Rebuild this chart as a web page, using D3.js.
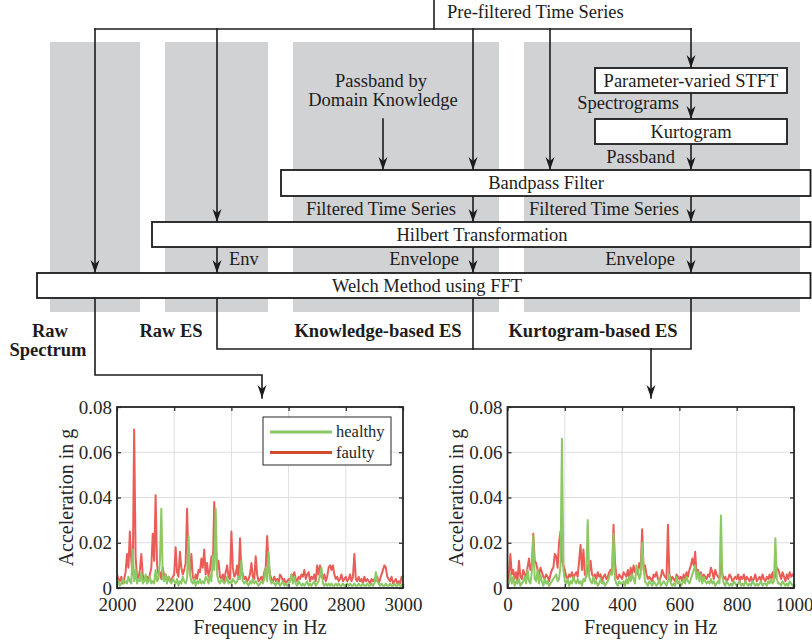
<!DOCTYPE html>
<html>
<head>
<meta charset="utf-8">
<script src="https://cdn.jsdelivr.net/npm/d3@7"></script>
<style>
  body { margin: 0; background: #fff; }
</style>
</head>
<body>
<div id="chart"></div>
<script>
// spectra, values in milli-g, one value every 5 Hz
const stepHz = 5;

const rawFreq = d3.range(2000, 3001, stepHz);
const rawFaulty = [
  6, 4, 3, 5, 2, 4, 7, 15, 9, 25,
  12, 6, 70, 14, 5, 4, 8, 15, 6, 3,
  4, 5, 3, 6, 9, 24, 12, 41, 10, 6,
  7, 4, 9, 5, 6, 3, 5, 4, 3, 5,
  6, 18, 7, 5, 16, 9, 6, 8, 11, 35,
  12, 6, 15, 5, 3, 6, 4, 8, 7, 13,
  9, 17, 6, 11, 5, 8, 14, 9, 38, 20,
  8, 12, 5, 4, 6, 3, 7, 10, 5, 4,
  25, 9, 5, 6, 10, 4, 22, 8, 6, 4,
  5, 3, 4, 6, 11, 5, 4, 14, 6, 3,
  4, 5, 3, 7, 9, 23, 11, 6, 4, 3,
  5, 3, 4, 2, 6, 5, 3, 4, 2, 3,
  4, 3, 6, 5, 7, 4, 3, 5, 4, 6,
  5, 8, 4, 6, 7, 3, 5, 4, 6, 3,
  10, 6, 10, 5, 4, 6, 3, 5, 9, 10,
  8, 10, 6, 4, 5, 3, 4, 6, 3, 4,
  5, 3, 4, 6, 3, 5, 15, 4, 3, 5,
  3, 4, 2, 5, 3, 4, 3, 2, 4, 3,
  4, 3, 5, 2, 4, 6, 8, 10, 9, 5,
  4, 3, 5, 2, 3, 4, 2, 3, 2, 5,
  5
];
const rawHealthy = [
  2, 3, 1, 2, 4, 2, 3, 2, 5, 3,
  2, 17, 3, 8, 2, 4, 3, 7, 2, 3,
  6, 2, 3, 5, 2, 3, 2, 8, 3, 4,
  12, 35, 4, 3, 6, 2, 5, 3, 2, 4,
  3, 2, 4, 1, 3, 2, 5, 3, 2, 4,
  23, 6, 3, 2, 4, 1, 3, 2, 4, 2,
  3, 2, 5, 4, 2, 6, 3, 14, 8, 35,
  6, 3, 2, 4, 3, 2, 3, 5, 2, 3,
  2, 4, 3, 2, 3, 5, 4, 12, 3, 2,
  3, 2, 1, 3, 2, 4, 2, 3, 2, 1,
  2, 3, 2, 4, 9, 3, 16, 4, 2, 3,
  2, 1, 3, 2, 1, 2, 3, 1, 2, 1,
  2, 3, 6, 2, 5, 2, 1, 3, 2, 1,
  2, 1, 2, 3, 1, 2, 1, 2, 3, 1,
  2, 3, 6, 9, 2, 1, 2, 1, 2, 1,
  2, 1, 1, 2, 1, 2, 1, 1, 2, 1,
  1, 2, 1, 2, 1, 1, 2, 1, 1, 2,
  1, 1, 2, 1, 1, 2, 1, 1, 2, 1,
  2, 7, 3, 2, 1, 2, 1, 1, 2, 1,
  1, 2, 1, 1, 2, 1, 1, 2, 1, 1,
  2
];

const esFreq = d3.range(0, 1001, stepHz);
const esFaulty = [
  3, 5, 15, 6, 8, 4, 7, 3, 12, 5,
  4, 8, 6, 5, 9, 13, 8, 10, 24, 12,
  11, 8, 6, 9, 7, 5, 4, 6, 5, 3,
  6, 8, 9, 15, 14, 9, 20, 25, 12, 10,
  8, 5, 4, 6, 5, 7, 4, 6, 7, 5,
  12, 19, 8, 17, 6, 5, 10, 7, 12, 6,
  5, 6, 4, 7, 5, 6, 3, 5, 6, 4,
  5, 7, 8, 6, 28, 12, 5, 4, 6, 5,
  4, 7, 6, 5, 8, 4, 9, 6, 10, 7,
  8, 6, 11, 9, 26, 8, 10, 6, 4, 5,
  4, 3, 6, 5, 7, 4, 3, 5, 8, 6,
  5, 4, 28, 6, 3, 5, 4, 3, 6, 5,
  4, 5, 3, 6, 4, 7, 5, 8, 10, 13,
  10, 16, 6, 8, 5, 7, 4, 6, 5, 4,
  6, 5, 9, 7, 4, 8, 6, 5, 4, 12,
  6, 4, 5, 3, 4, 6, 5, 3, 4, 5,
  4, 6, 3, 5, 4, 6, 3, 5, 4, 3,
  5, 3, 4, 6, 3, 4, 5, 3, 6, 4,
  3, 5, 4, 6, 3, 7, 4, 5, 9, 8,
  6, 4, 7, 5, 3, 6, 4, 7, 5, 6,
  5
];
const esHealthy = [
  1, 2, 6, 2, 5, 1, 3, 2, 4, 1,
  2, 3, 5, 2, 8, 3, 2, 7, 23, 4,
  3, 8, 2, 6, 3, 1, 4, 2, 3, 1,
  2, 3, 4, 5, 6, 3, 4, 10, 66, 8,
  3, 2, 4, 1, 3, 2, 5, 3, 2, 4,
  2, 3, 1, 4, 3, 6, 30, 5, 3, 2,
  5, 2, 3, 1, 2, 4, 2, 3, 1, 2,
  3, 5, 7, 6, 24, 4, 2, 1, 3, 2,
  2, 3, 1, 4, 2, 5, 3, 6, 4, 2,
  10, 8, 4, 6, 20, 9, 3, 2, 1, 3,
  2, 1, 3, 2, 1, 2, 4, 1, 2, 3,
  2, 1, 3, 6, 2, 1, 2, 1, 5, 2,
  3, 1, 2, 4, 2, 5, 3, 2, 4, 6,
  8, 10, 4, 7, 3, 6, 2, 5, 3, 2,
  3, 2, 4, 2, 3, 1, 2, 3, 2, 32,
  5, 2, 1, 3, 2, 1, 2, 1, 3, 2,
  1, 2, 3, 1, 2, 1, 3, 2, 1, 2,
  1, 3, 2, 1, 2, 1, 2, 3, 1, 2,
  2, 1, 3, 2, 4, 2, 3, 22, 4, 2,
  2, 1, 3, 2, 1, 2, 1, 3, 2, 1,
  2
];

const yTicks = [0, 0.02, 0.04, 0.06, 0.08];
const rawTicks = [2000, 2200, 2400, 2600, 2800, 3000];
const esTicks = [0, 200, 400, 600, 800, 1000];
const seriesNames = ['healthy', 'faulty'];

const colours = {
  healthy: '#8cc863',
  faulty: '#ea5d57',
  faultyLegend: '#d24a2c',
  column: '#d1d2d4',
  ink: '#1c1c1c',
  axis: '#262626',
  grid: '#dedede'
};

const serif = "'Liberation Serif', 'Times New Roman', Tinos, Times, 'DejaVu Serif', serif";
const width = 812;
const height = 644;

const svg = d3.select('#chart')
  .append('svg')
  .attr('width', width)
  .attr('height', height)
  .attr('viewBox', `0 0 ${width} ${height}`)
  .style('font-family', serif);

svg.append('defs').append('marker')
  .attr('id', 'arrow')
  .attr('markerUnits', 'userSpaceOnUse')
  .attr('markerWidth', 13)
  .attr('markerHeight', 10)
  .attr('refX', 13)
  .attr('refY', 5)
  .attr('orient', 'auto')
  .append('path')
  .attr('d', 'M0,0.5 L13,5 L0,9.5 L4,5 Z')
  .attr('fill', colours.ink);

// ---------- flow chart ----------
function flowChart() {
  const g = svg.append('g');

  const columns = [[50, 140], [165, 268], [293, 499], [524, 800]];
  g.selectAll('rect.column')
    .data(columns)
    .enter()
    .append('rect')
    .attr('class', 'column')
    .attr('x', d => d[0])
    .attr('y', 42)
    .attr('width', d => d[1] - d[0])
    .attr('height', 312 - 42)
    .attr('fill', colours.column);

  const connectors = [
    { pts: [[434, 0], [434, 29]] },
    { pts: [[95, 29], [691, 29]] },
    { pts: [[95, 29], [95, 273]], arrow: true },
    { pts: [[217, 29], [217, 222]], arrow: true },
    { pts: [[473, 29], [473, 170]], arrow: true },
    { pts: [[550, 29], [550, 170]], arrow: true },
    { pts: [[691, 29], [691, 68]], arrow: true },
    { pts: [[383, 119], [383, 170]], arrow: true },
    { pts: [[691, 93], [691, 119]], arrow: true },
    { pts: [[691, 144], [691, 170]], arrow: true },
    { pts: [[473, 196], [473, 222]], arrow: true },
    { pts: [[691, 196], [691, 222]], arrow: true },
    { pts: [[217, 247], [217, 273]], arrow: true },
    { pts: [[473, 247], [473, 273]], arrow: true },
    { pts: [[691, 247], [691, 273]], arrow: true },
    { pts: [[95, 298], [95, 375], [262, 375], [262, 398]], arrow: true },
    { pts: [[217, 298], [217, 349], [691, 349], [691, 298]] },
    { pts: [[473, 298], [473, 349]] },
    { pts: [[651, 349], [651, 398]], arrow: true }
  ];

  g.selectAll('path.link')
    .data(connectors)
    .enter()
    .append('path')
    .attr('class', 'link')
    .attr('d', d => d3.line()(d.pts))
    .attr('fill', 'none')
    .attr('stroke', colours.ink)
    .attr('stroke-width', 1.6)
    .attr('stroke-linecap', 'square')
    .attr('marker-end', d => d.arrow ? 'url(#arrow)' : null);

  const boxes = [
    { label: 'Parameter-varied STFT', x0: 595, x1: 787, y0: 68, y1: 93, tx: 691 },
    { label: 'Kurtogram', x0: 595, x1: 787, y0: 119, y1: 144, tx: 691 },
    { label: 'Bandpass Filter', x0: 281, x1: 810.5, y0: 170, y1: 196, tx: 546 },
    { label: 'Hilbert Transformation', x0: 152, x1: 810.5, y0: 222, y1: 247, tx: 482 },
    { label: 'Welch Method using FFT', x0: 37, x1: 810.5, y0: 273, y1: 298, tx: 427 }
  ];

  const box = g.selectAll('g.box')
    .data(boxes)
    .enter()
    .append('g')
    .attr('class', 'box');

  box.append('rect')
    .attr('x', d => d.x0)
    .attr('y', d => d.y0)
    .attr('width', d => d.x1 - d.x0)
    .attr('height', d => d.y1 - d.y0)
    .attr('fill', '#fff')
    .attr('stroke', colours.ink)
    .attr('stroke-width', 1.8);

  box.append('text')
    .attr('x', d => d.tx)
    .attr('y', d => (d.y0 + d.y1) / 2 + 6)
    .attr('text-anchor', 'middle')
    .attr('font-size', '18.5px')
    .attr('fill', colours.ink)
    .text(d => d.label);

  const notes = [
    { t: 'Pre-filtered Time Series', x: 447, y: 18, a: 'start' },
    { t: 'Passband by', x: 381, y: 87, a: 'middle' },
    { t: 'Domain Knowledge', x: 383, y: 106, a: 'middle' },
    { t: 'Spectrograms', x: 679, y: 109, a: 'end' },
    { t: 'Passband', x: 675, y: 163, a: 'end' },
    { t: 'Filtered Time Series', x: 456, y: 215, a: 'end' },
    { t: 'Filtered Time Series', x: 679, y: 215, a: 'end' },
    { t: 'Env', x: 229, y: 265, a: 'start' },
    { t: 'Envelope', x: 459, y: 265, a: 'end' },
    { t: 'Envelope', x: 675, y: 265, a: 'end' },
    { t: 'Raw', x: 50, y: 337, a: 'middle', bold: true },
    { t: 'Spectrum', x: 48, y: 356, a: 'middle', bold: true },
    { t: 'Raw ES', x: 171, y: 337, a: 'middle', bold: true },
    { t: 'Knowledge-based ES', x: 378, y: 337, a: 'middle', bold: true },
    { t: 'Kurtogram-based ES', x: 593, y: 337, a: 'middle', bold: true }
  ];

  g.selectAll('text.note')
    .data(notes)
    .enter()
    .append('text')
    .attr('class', 'note')
    .attr('x', d => d.x)
    .attr('y', d => d.y)
    .attr('text-anchor', d => d.a)
    .attr('font-size', '18.5px')
    .attr('font-weight', d => d.bold ? 'bold' : 'normal')
    .attr('fill', colours.ink)
    .text(d => d.t);
}

// ---------- spectrum panels ----------
function spectrumPlot(opts) {
  const { x0, x1, freq, healthy, faulty, ticks, yLabelX, legend, id } = opts;
  const y0 = 407, y1 = 588;

  const x = d3.scaleLinear().domain(d3.extent(ticks)).range([x0, x1]);
  const y = d3.scaleLinear().domain([0, 0.08]).range([y1, y0]);

  const g = svg.append('g');

  g.append('rect')
    .attr('x', x0).attr('y', y0)
    .attr('width', x1 - x0).attr('height', y1 - y0)
    .attr('fill', '#fff');

  g.append('g').selectAll('line')
    .data(ticks)
    .enter()
    .append('line')
    .attr('x1', d => x(d)).attr('x2', d => x(d))
    .attr('y1', y0).attr('y2', y1)
    .attr('stroke', colours.grid)
    .attr('stroke-width', 1);

  g.append('g').selectAll('line')
    .data(yTicks)
    .enter()
    .append('line')
    .attr('x1', x0).attr('x2', x1)
    .attr('y1', d => y(d)).attr('y2', d => y(d))
    .attr('stroke', colours.grid)
    .attr('stroke-width', 1);

  g.append('clipPath')
    .attr('id', 'clip-' + id)
    .append('rect')
    .attr('x', x0).attr('y', y0)
    .attr('width', x1 - x0).attr('height', y1 - y0);

  const line = d3.line()
    .x((d, i) => x(freq[i]))
    .y(d => y(d / 1000));

  const traces = g.append('g').attr('clip-path', `url(#clip-${id})`);
  [['faulty', faulty], ['healthy', healthy]].forEach(([name, vals]) => {
    traces.append('path')
      .datum(vals)
      .attr('d', line)
      .attr('fill', 'none')
      .attr('stroke', colours[name])
      .attr('stroke-width', 2)
      .attr('stroke-linejoin', 'round');
  });

  const styleAxis = sel => {
    sel.attr('font-family', serif);
    sel.select('.domain').remove();
    sel.selectAll('.tick line').attr('stroke', colours.axis).attr('stroke-width', 1.2);
    sel.selectAll('.tick text')
      .attr('fill', colours.axis)
      .attr('font-size', '19px');
  };

  g.append('g')
    .attr('transform', `translate(0,${y1})`)
    .call(d3.axisBottom(x).tickValues(ticks).tickSize(-4).tickPadding(9.5).tickFormat(d3.format('d')))
    .call(styleAxis);
  g.append('g')
    .attr('transform', `translate(0,${y0})`)
    .call(d3.axisTop(x).tickValues(ticks).tickSize(-4).tickFormat(''))
    .call(styleAxis);
  g.append('g')
    .attr('transform', `translate(${x0},0)`)
    .call(d3.axisLeft(y).tickValues(yTicks).tickSize(-4).tickPadding(5)
      .tickFormat(d => d === 0 ? '0' : d3.format('.2f')(d)))
    .call(styleAxis);
  g.append('g')
    .attr('transform', `translate(${x1},0)`)
    .call(d3.axisRight(y).tickValues(yTicks).tickSize(-4).tickFormat(''))
    .call(styleAxis);

  g.append('rect')
    .attr('x', x0).attr('y', y0)
    .attr('width', x1 - x0).attr('height', y1 - y0)
    .attr('fill', 'none')
    .attr('stroke', colours.axis)
    .attr('stroke-width', 1.8);

  g.append('text')
    .attr('x', (x0 + x1) / 2)
    .attr('y', 634)
    .attr('text-anchor', 'middle')
    .attr('font-size', '20px')
    .attr('fill', colours.axis)
    .text('Frequency in Hz');

  g.append('text')
    .attr('transform', `translate(${yLabelX},${(y0 + y1) / 2}) rotate(-90)`)
    .attr('text-anchor', 'middle')
    .attr('font-size', '20px')
    .attr('fill', colours.axis)
    .text('Acceleration in g');

  if (legend) {
    const lg = g.append('g');
    lg.append('rect')
      .attr('x', 263).attr('y', 417)
      .attr('width', 128).attr('height', 48)
      .attr('fill', '#fff')
      .attr('stroke', colours.axis)
      .attr('stroke-width', 1);
    const rows = lg.selectAll('g.item')
      .data(seriesNames)
      .enter()
      .append('g')
      .attr('class', 'item')
      .attr('transform', (d, i) => `translate(0,${432 + i * 20.5})`);
    rows.append('line')
      .attr('x1', 270).attr('x2', 332)
      .attr('stroke', d => d === 'faulty' ? colours.faultyLegend : colours.healthy)
      .attr('stroke-width', 3);
    rows.append('text')
      .attr('x', 336).attr('y', 5)
      .attr('font-size', '16.5px')
      .attr('fill', colours.axis)
      .text(d => d);
  }
}

window.onload = function () {
  flowChart();
  spectrumPlot({ id: 'raw', x0: 117, x1: 403, freq: rawFreq, healthy: rawHealthy, faulty: rawFaulty,
    ticks: rawTicks, yLabelX: 73, legend: true });
  spectrumPlot({ id: 'es', x0: 507.5, x1: 794, freq: esFreq, healthy: esHealthy, faulty: esFaulty,
    ticks: esTicks, yLabelX: 463, legend: false });
};
</script>
</body>
</html>
